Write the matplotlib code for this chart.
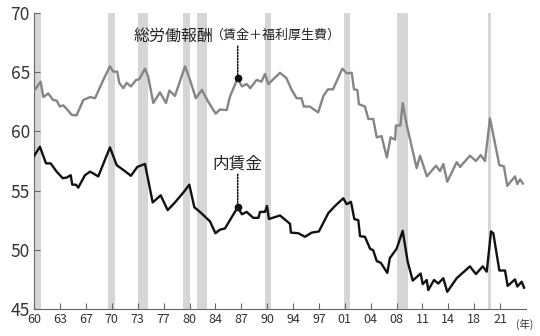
"""Labour share: total compensation vs. wages only, with recession shading."""

import matplotlib
matplotlib.use("Agg")
import matplotlib.pyplot as plt
import numpy as np

plt.rcParams["font.family"] = ["Noto Sans CJK JP", "DejaVu Sans"]

# total compensation (wages + benefits), % of income
comp_year = [1960.0, 1960.95, 1961.3, 1961.96, 1962.6, 1963.07, 1963.5, 1963.95, 1964.4, 1965.06,
             1965.7, 1966.6, 1967.5, 1968.15, 1969.25, 1970.13, 1970.57, 1971.1, 1971.36, 1971.9,
             1972.35, 1972.9, 1973.6, 1974.0, 1974.77, 1975.2, 1975.87, 1976.75, 1977.55, 1978.0,
             1978.74, 1980.07, 1980.73, 1981.5, 1982.3, 1983.15, 1984.13, 1984.7, 1985.6, 1986.0,
             1987.05, 1987.6, 1988.25, 1988.7, 1989.56, 1990.2, 1990.66, 1991.1, 1992.65, 1993.5,
             1994.2, 1994.86, 1995.5, 1995.8, 1996.6, 1997.7, 1998.4, 1999.0, 1999.67, 2000.9,
             2001.5, 2002.15, 2002.45, 2002.9, 2003.1, 2003.9, 2004.35, 2005.0, 2005.46, 2006.1,
             2006.8, 2007.3, 2007.9, 2008.0, 2008.6, 2008.9, 2009.43, 2010.75, 2011.2, 2012.1,
             2013.3, 2013.84, 2014.28, 2014.8, 2016.05, 2016.5, 2017.8, 2018.6, 2019.23, 2019.8,
             2020.46, 2021.7, 2022.3, 2022.75, 2023.77, 2024.08, 2024.44, 2024.8]
comp_share = [63.35, 64.2, 62.9, 63.2, 62.65, 62.6, 62.1, 62.2, 61.9, 61.4,
              61.35, 62.65, 62.9, 62.8, 64.35, 65.5, 65.05, 65.05, 64.1, 63.65,
              64.1, 63.8, 64.35, 64.4, 65.3, 64.6, 62.4, 63.3, 62.4, 63.45,
              63.0, 65.5, 64.35, 62.8, 63.5, 62.5, 61.5, 61.85, 61.8, 62.9,
              64.5, 63.8, 64.0, 63.65, 64.35, 64.2, 64.85, 64.0, 64.95, 64.5,
              63.5, 62.8, 62.8, 62.1, 62.1, 61.6, 63.0, 63.55, 63.55, 65.3,
              64.9, 64.95, 63.55, 63.5, 62.3, 62.1, 61.05, 61.05, 59.5, 59.6,
              57.8, 59.5, 59.3, 60.5, 60.5, 62.4, 60.55, 56.9, 57.95, 56.2,
              57.1, 56.65, 57.25, 55.75, 57.4, 57.0, 57.95, 57.5, 58.0, 57.5,
              61.1, 57.15, 57.05, 55.4, 56.2, 55.55, 55.95, 55.6]

# of which wages
wage_year = [1960.0, 1960.86, 1961.66, 1962.28, 1963.07, 1963.87, 1964.4, 1964.93, 1965.14, 1965.63,
             1965.93, 1966.82, 1967.48, 1967.92, 1968.58, 1970.13, 1971.02, 1971.99, 1972.91, 1973.75,
             1974.77, 1975.79, 1976.85, 1977.77, 1978.74, 1979.93, 1980.64, 1981.3, 1982.05, 1983.38,
             1984.1, 1984.7, 1985.36, 1987.05, 1987.6, 1988.24, 1989.1, 1989.8, 1990.0, 1990.66,
             1990.93, 1991.19, 1992.65, 1993.97, 1994.1, 1995.07, 1995.96, 1996.85, 1997.8, 1999.05,
             1999.93, 2001.03, 2001.48, 2002.05, 2002.49, 2003.02, 2003.25, 2003.9, 2004.57, 2005.0,
             2005.46, 2006.0, 2006.86, 2007.2, 2008.1, 2008.9, 2009.56, 2010.23, 2011.28, 2011.55,
             2012.08, 2012.29, 2013.05, 2013.6, 2014.28, 2014.8, 2016.05, 2017.8, 2018.6, 2019.5,
             2020.03, 2020.6, 2020.9, 2021.7, 2022.45, 2022.8, 2023.77, 2024.08, 2024.66, 2024.97]
wage_share = [57.85, 58.7, 57.3, 57.3, 56.6, 56.05, 56.1, 56.3, 55.5, 55.5,
              55.25, 56.3, 56.6, 56.45, 56.2, 58.65, 57.15, 56.7, 56.25, 57.0,
              57.25, 54.0, 54.6, 53.35, 54.0, 54.9, 55.5, 53.6, 53.2, 52.4,
              51.4, 51.7, 51.8, 53.6, 53.0, 53.2, 52.7, 52.7, 53.2, 53.2,
              53.7, 52.6, 52.9, 52.2, 51.45, 51.4, 51.1, 51.45, 51.55, 53.1,
              53.7, 54.35, 53.85, 54.05, 52.6, 52.5, 51.15, 51.1, 50.1, 49.95,
              49.05, 48.9, 48.05, 49.3, 50.1, 51.6, 49.0, 47.4, 48.0, 47.1,
              47.45, 46.6, 47.45, 47.15, 47.6, 46.45, 47.6, 48.6, 47.95, 48.6,
              48.15, 51.55, 51.4, 48.25, 48.25, 46.95, 47.5, 46.9, 47.3, 46.8]

# recession periods (start, end)
rec_start = [1960.2, 1969.9, 1973.8, 1979.8, 1981.6, 1990.6, 2001.1, 2008.1, 2020.2]
rec_end = [1961.0, 1970.8, 1975.2, 1980.7, 1983.0, 1991.5, 2001.9, 2009.55, 2020.6]

tick_labels = ["60", "63", "67", "70", "73", "77", "80", "84", "87", "90",
               "94", "97", "01", "04", "08", "11", "14", "18", "21"]

note_year = 1987.05
note_comp = 64.5
note_wage = 53.6

W, H = 540, 336
fig = plt.figure(figsize=(W / 100, H / 100), dpi=100)
ax = fig.add_axes([34 / W, 27 / H, 492 / W, 296 / H])

for s, e in zip(rec_start, rec_end):
    ax.axvspan(s, e, color="#d6d6d6", lw=0, zorder=0)

ax.plot(comp_year, comp_share, color="#858585", lw=1.7, zorder=3)
ax.plot(wage_year, wage_share, color="#111111", lw=1.7, zorder=3)

ax.set_xlim(1960.07, 2025.23)
ax.set_ylim(45, 70)
ax.set_yticks([45, 50, 55, 60, 65, 70])
ax.set_xticks(np.linspace(1960.1, 2021.8, len(tick_labels)))
ax.set_xticklabels(tick_labels)

for side in ("top", "right"):
    ax.spines[side].set_visible(False)
for side in ("left", "bottom"):
    ax.spines[side].set_color("#666666")
    ax.spines[side].set_linewidth(0.8)
ax.tick_params(axis="y", direction="in", length=4, width=0.8, color="#666666",
               labelsize=12.5, labelcolor="#333333", pad=3)
ax.tick_params(axis="x", direction="in", length=4, width=0.8, color="#666666",
               labelsize=9, labelcolor="#333333", pad=3)

# annotations
for val in (note_comp, note_wage):
    ax.plot([note_year], [val], "o", color="#111111", ms=4.5, zorder=5)
ax.annotate("", xy=(note_year, note_comp), xytext=(0, 32), textcoords="offset pixels",
            arrowprops=dict(arrowstyle="-", linestyle=(0, (1, 1)), color="#111111", lw=1.1,
                            shrinkA=0, shrinkB=0))
ax.annotate("", xy=(note_year, note_wage), xytext=(0, 33), textcoords="offset pixels",
            arrowprops=dict(arrowstyle="-", linestyle=(0, (1, 1)), color="#111111", lw=1.1,
                            shrinkA=0, shrinkB=0))
ax.annotate("総労働報酬", xy=(note_year, note_comp), xytext=(-24, 42),
            textcoords="offset pixels", ha="right", va="center", fontsize=11.5, color="#222222")
ax.annotate("（賃金＋福利厚生費）", xy=(note_year, note_comp), xytext=(-27, 43),
            textcoords="offset pixels", ha="left", va="center", fontsize=9.4, color="#222222")
ax.annotate("内賃金", xy=(note_year, note_wage), xytext=(0, 43),
            textcoords="offset pixels", ha="center", va="center", fontsize=12, color="#222222")

fig.text(525 / W, 1 - 324 / H, "(年)", ha="center", va="center", fontsize=7.5, color="#333333")

fig.savefig("out.png", dpi=100)
